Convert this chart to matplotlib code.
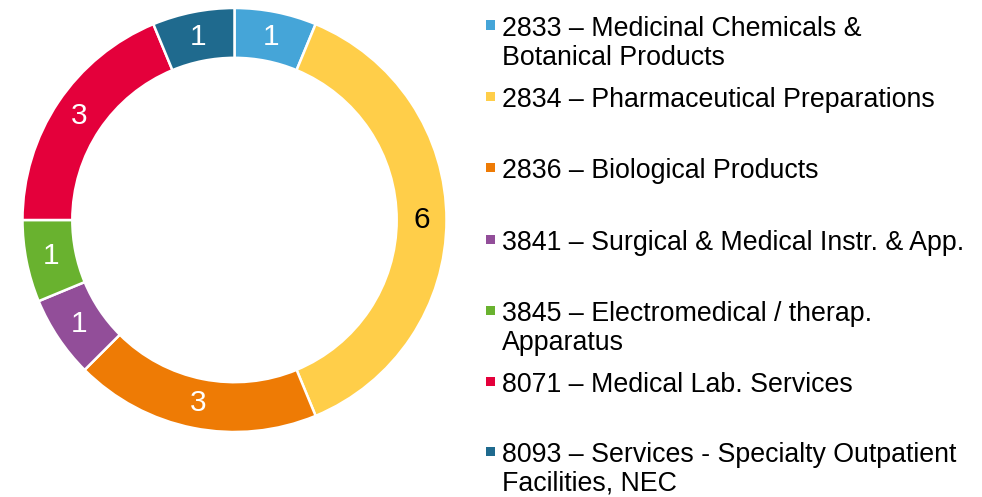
import matplotlib
matplotlib.use("Agg")
import matplotlib.pyplot as plt
from matplotlib.patches import Rectangle

plt.rcParams['font.family'] = ['Liberation Sans', 'DejaVu Sans']

categories = [
    "2833 – Medicinal Chemicals &\nBotanical Products",
    "2834 – Pharmaceutical Preparations",
    "2836 – Biological Products",
    "3841 – Surgical & Medical Instr. & App.",
    "3845 – Electromedical / therap.\nApparatus",
    "8071 – Medical Lab. Services",
    "8093 – Services - Specialty Outpatient\nFacilities, NEC",
]
values = [1, 6, 3, 1, 1, 3, 1]
colors = ["#45A5D8", "#FFCE49", "#EE7B05", "#924E99", "#69B22F", "#E4003B", "#1F6A8E"]
label_colors = ["white", "black", "white", "white", "white", "white", "white"]

W, H = 982, 497
fig = plt.figure(figsize=(W / 100, H / 100), dpi=100)

cx, cy, R = 234.5, 220.0, 212.0
ax = fig.add_axes([(cx - R) / W, (H - cy - R) / H, 2 * R / W, 2 * R / H])
width = 0.235
wedges, texts = ax.pie(values, startangle=90, counterclock=False, colors=colors,
                       radius=1.0,
                       wedgeprops=dict(width=width, edgecolor="white", linewidth=1.8),
                       labels=[str(v) for v in values], labeldistance=1 - width / 2,
                       textprops=dict(fontsize=21.5, ha="center", va="center"))
for t, c in zip(texts, label_colors):
    t.set_color(c)
ax.set_xlim(-1, 1)
ax.set_ylim(-1, 1)
ax.set_aspect("equal")
ax.axis("off")

# legend: entries placed by their first line
first_line_y = [26, 97, 168, 240, 311, 382, 452]
line_step = 29
fs = 19.3
for lab, col, y in zip(categories, colors, first_line_y):
    fig.patches.append(Rectangle((486 / W, 1 - (y + 3.5) / H), 9 / W, 9 / H,
                                 transform=fig.transFigure, facecolor=col, edgecolor="none"))
    for i, line in enumerate(lab.split("\n")):
        fig.text(502 / W, 1 - (y + i * line_step) / H, line, fontsize=fs,
                 ha="left", va="center_baseline", color="black")

fig.savefig("out.png", dpi=100)
